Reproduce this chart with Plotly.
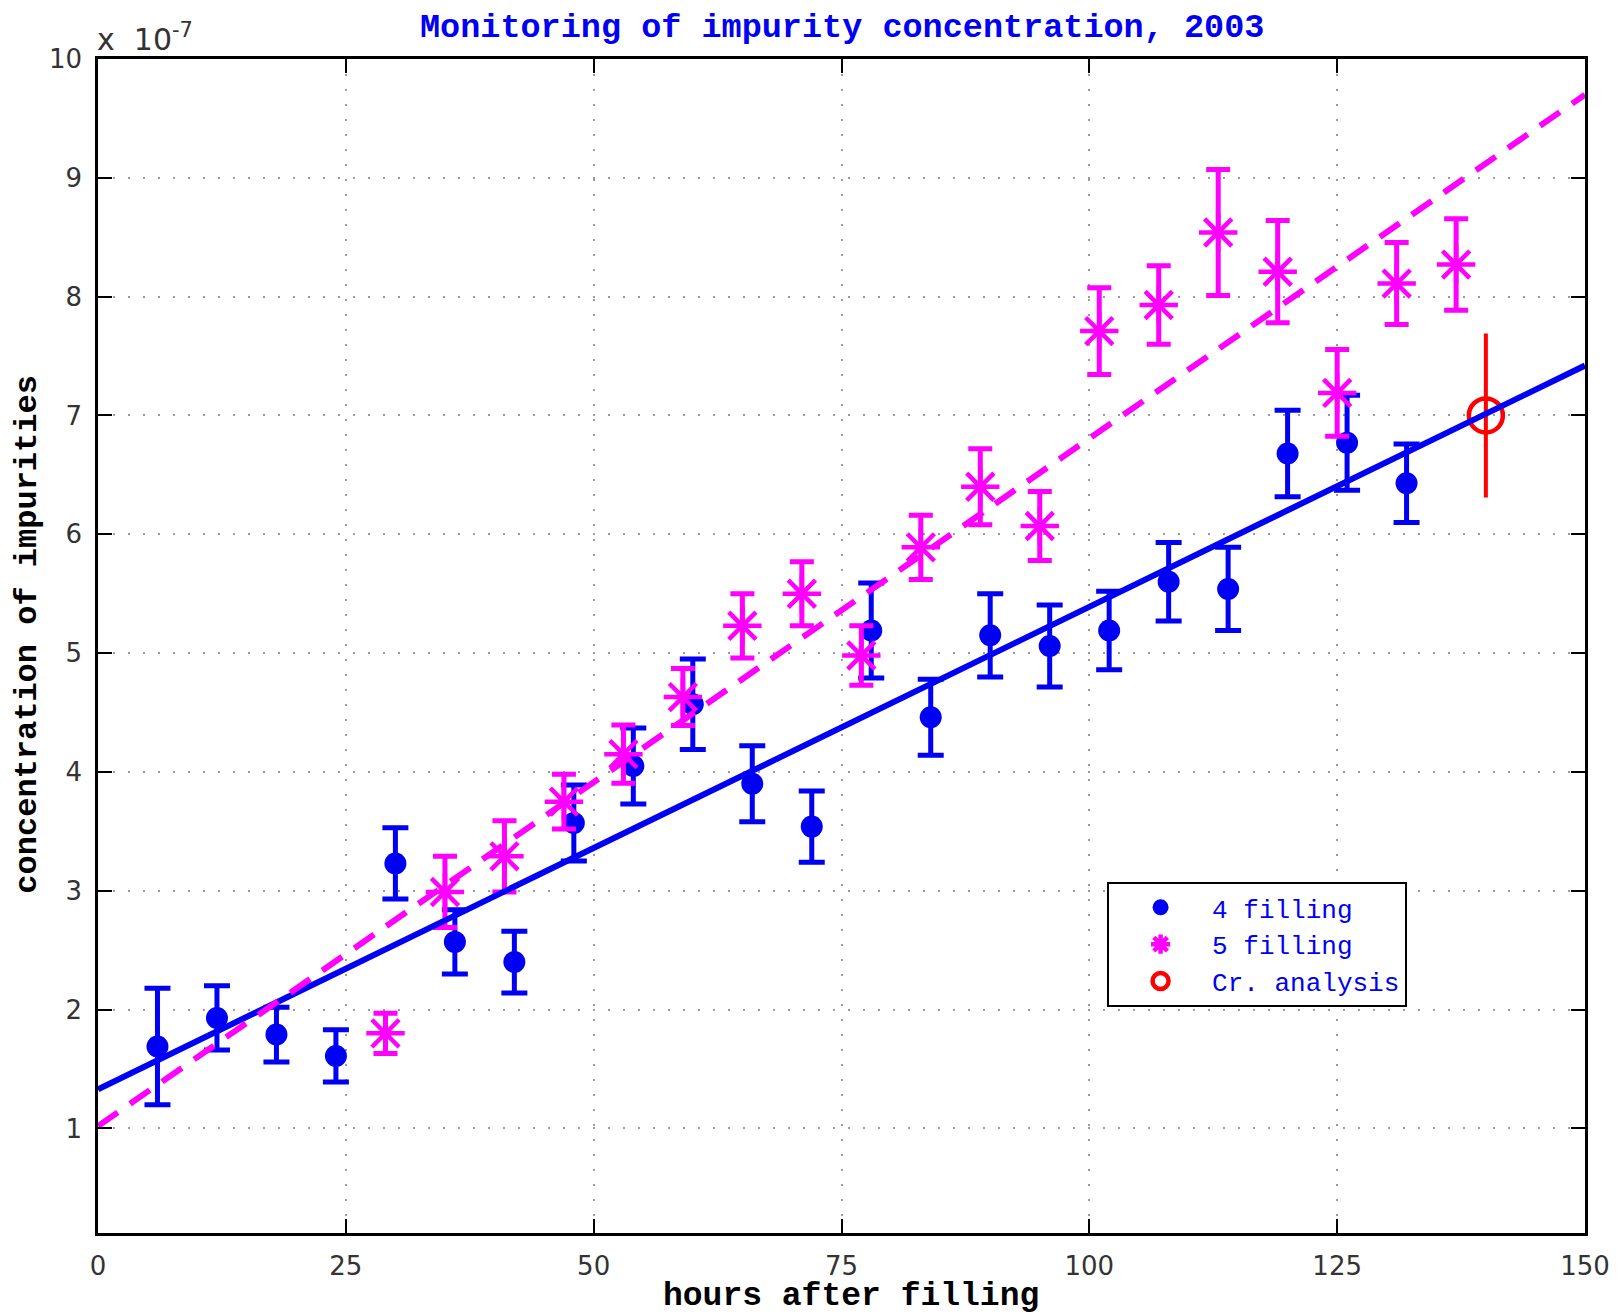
import plotly.graph_objects as go

# ---- data (concentration in units of 1e-7) ----
blue_x = [6, 12, 18, 24, 30, 36, 42, 48, 54, 60, 66, 72, 78, 84, 90, 96, 102, 108, 114, 120, 126, 132]
blue_y = [1.69, 1.93, 1.79, 1.61, 3.23, 2.57, 2.40, 3.57, 4.05, 4.57, 3.90, 3.54, 5.19, 4.46, 5.15, 5.06,
          5.19, 5.60, 5.54, 6.68, 6.77, 6.43]
blue_err = [0.49, 0.27, 0.23, 0.22, 0.30, 0.27, 0.26, 0.32, 0.32, 0.38, 0.32, 0.30, 0.40, 0.32, 0.35, 0.345,
            0.33, 0.33, 0.35, 0.365, 0.40, 0.33]

mag_x = [29, 35, 41, 47, 53, 59, 65, 71, 77, 83, 89, 95, 101, 107, 113, 119, 125, 131, 137]
mag_y = [1.80, 2.99, 3.29, 3.75, 4.15, 4.63, 5.23, 5.50, 4.98, 5.89, 6.40, 6.07, 7.71, 7.93, 8.54, 8.21,
         7.19, 8.11, 8.27]
mag_err = [0.17, 0.30, 0.30, 0.23, 0.245, 0.24, 0.27, 0.27, 0.25, 0.27, 0.32, 0.29, 0.365, 0.33, 0.53,
           0.43, 0.365, 0.345, 0.385]

red_x = [140]
red_y = [7.0]
red_err = [0.69]

fit_x = [0, 150]
blue_fit_y = [1.33, 7.42]
mag_fit_y = [1.02, 9.70]

x_ticks = [0, 25, 50, 75, 100, 125, 150]
y_ticks = [1, 2, 3, 4, 5, 6, 7, 8, 9, 10]

BLUE = "#0000f5"
MAG = "#ff00ff"
RED = "#ff0000"
MONO = "Liberation Mono, Courier New, monospace"
SANS = "DejaVu Sans, sans-serif"

fig = go.Figure()

fig.add_trace(go.Scatter(
    x=blue_x, y=blue_y, mode="markers", name="4 filling",
    marker=dict(color=BLUE, size=22, symbol="circle"),
    error_y=dict(type="data", array=blue_err, visible=True, color=BLUE, thickness=5, width=13),
))
fig.add_trace(go.Scatter(
    x=mag_x, y=mag_y, mode="markers", name="5 filling",
    marker=dict(color=MAG, size=32, symbol="asterisk-open", line=dict(color=MAG, width=4.5)),
    error_y=dict(type="data", array=mag_err, visible=True, color=MAG, thickness=5, width=12),
))
fig.add_trace(go.Scatter(
    x=red_x, y=red_y, mode="markers", name="Cr. analysis",
    marker=dict(color=RED, size=34, symbol="circle-open", line=dict(color=RED, width=4.5)),
    error_y=dict(type="data", array=red_err, visible=True, color=RED, thickness=4, width=0),
))
fig.add_trace(go.Scatter(
    x=fit_x, y=blue_fit_y, mode="lines", showlegend=False,
    line=dict(color=BLUE, width=6),
))
fig.add_trace(go.Scatter(
    x=fit_x, y=mag_fit_y, mode="lines", showlegend=False,
    line=dict(color=MAG, width=6, dash="24px,15px"),
))

axis_common = dict(
    showline=True, linecolor="black", linewidth=2.5, mirror="ticks",
    ticks="inside", ticklen=14, tickwidth=1.5, tickcolor="black",
    showgrid=True, gridcolor="#9a9a9a", gridwidth=1.5, griddash="2px,13px",
    zeroline=False, automargin=False,
    tickfont=dict(family=SANS, size=26, color="#333333"),
)

# page body has an 8px margin: figure is sized/margined so the plot area lands at
# x 98..1585, y 59..1233 of the window
fig.update_layout(
    width=1607, height=1307,
    margin=dict(l=90, r=30, t=51, b=82),
    paper_bgcolor="white", plot_bgcolor="white",
    xaxis=dict(range=[0, 150], tickvals=x_ticks, ticklabelstandoff=8, **axis_common),
    yaxis=dict(range=[0.12, 10], tickvals=y_ticks, ticklabelstandoff=8, **axis_common),
    legend=dict(
        x=0.6786, y=0.299, xanchor="left", yanchor="top",
        bgcolor="white", bordercolor="black", borderwidth=2,
        font=dict(family=MONO, size=26, color=BLUE),
        itemwidth=93, tracegroupgap=0,
    ),
    showlegend=True,
    annotations=[
        dict(text="<b>Monitoring of impurity concentration, 2003</b>", xref="paper", yref="paper",
             x=0.5, y=1.0264, xanchor="center", yanchor="middle", showarrow=False,
             font=dict(family=MONO, size=33.5, color=BLUE)),
        dict(text="<b>hours after filling</b>", xref="paper", yref="paper",
             x=0.5065, y=-0.0545, xanchor="center", yanchor="middle", showarrow=False,
             font=dict(family=MONO, size=33, color="black")),
        dict(text="<b>concentration of impurities</b>", xref="paper", yref="paper",
             x=-0.0475, y=0.51, xanchor="center", yanchor="middle", showarrow=False, textangle=-90,
             font=dict(family=MONO, size=32, color="black")),
        dict(text="x\u00a0\u00a010<sup>-7</sup>", xref="paper", yref="paper",
             x=-0.002, y=1.0, xanchor="left", yanchor="bottom", showarrow=False,
             font=dict(family=SANS, size=30, color="#333333")),
    ],
)

fig.write_html("out.html")
